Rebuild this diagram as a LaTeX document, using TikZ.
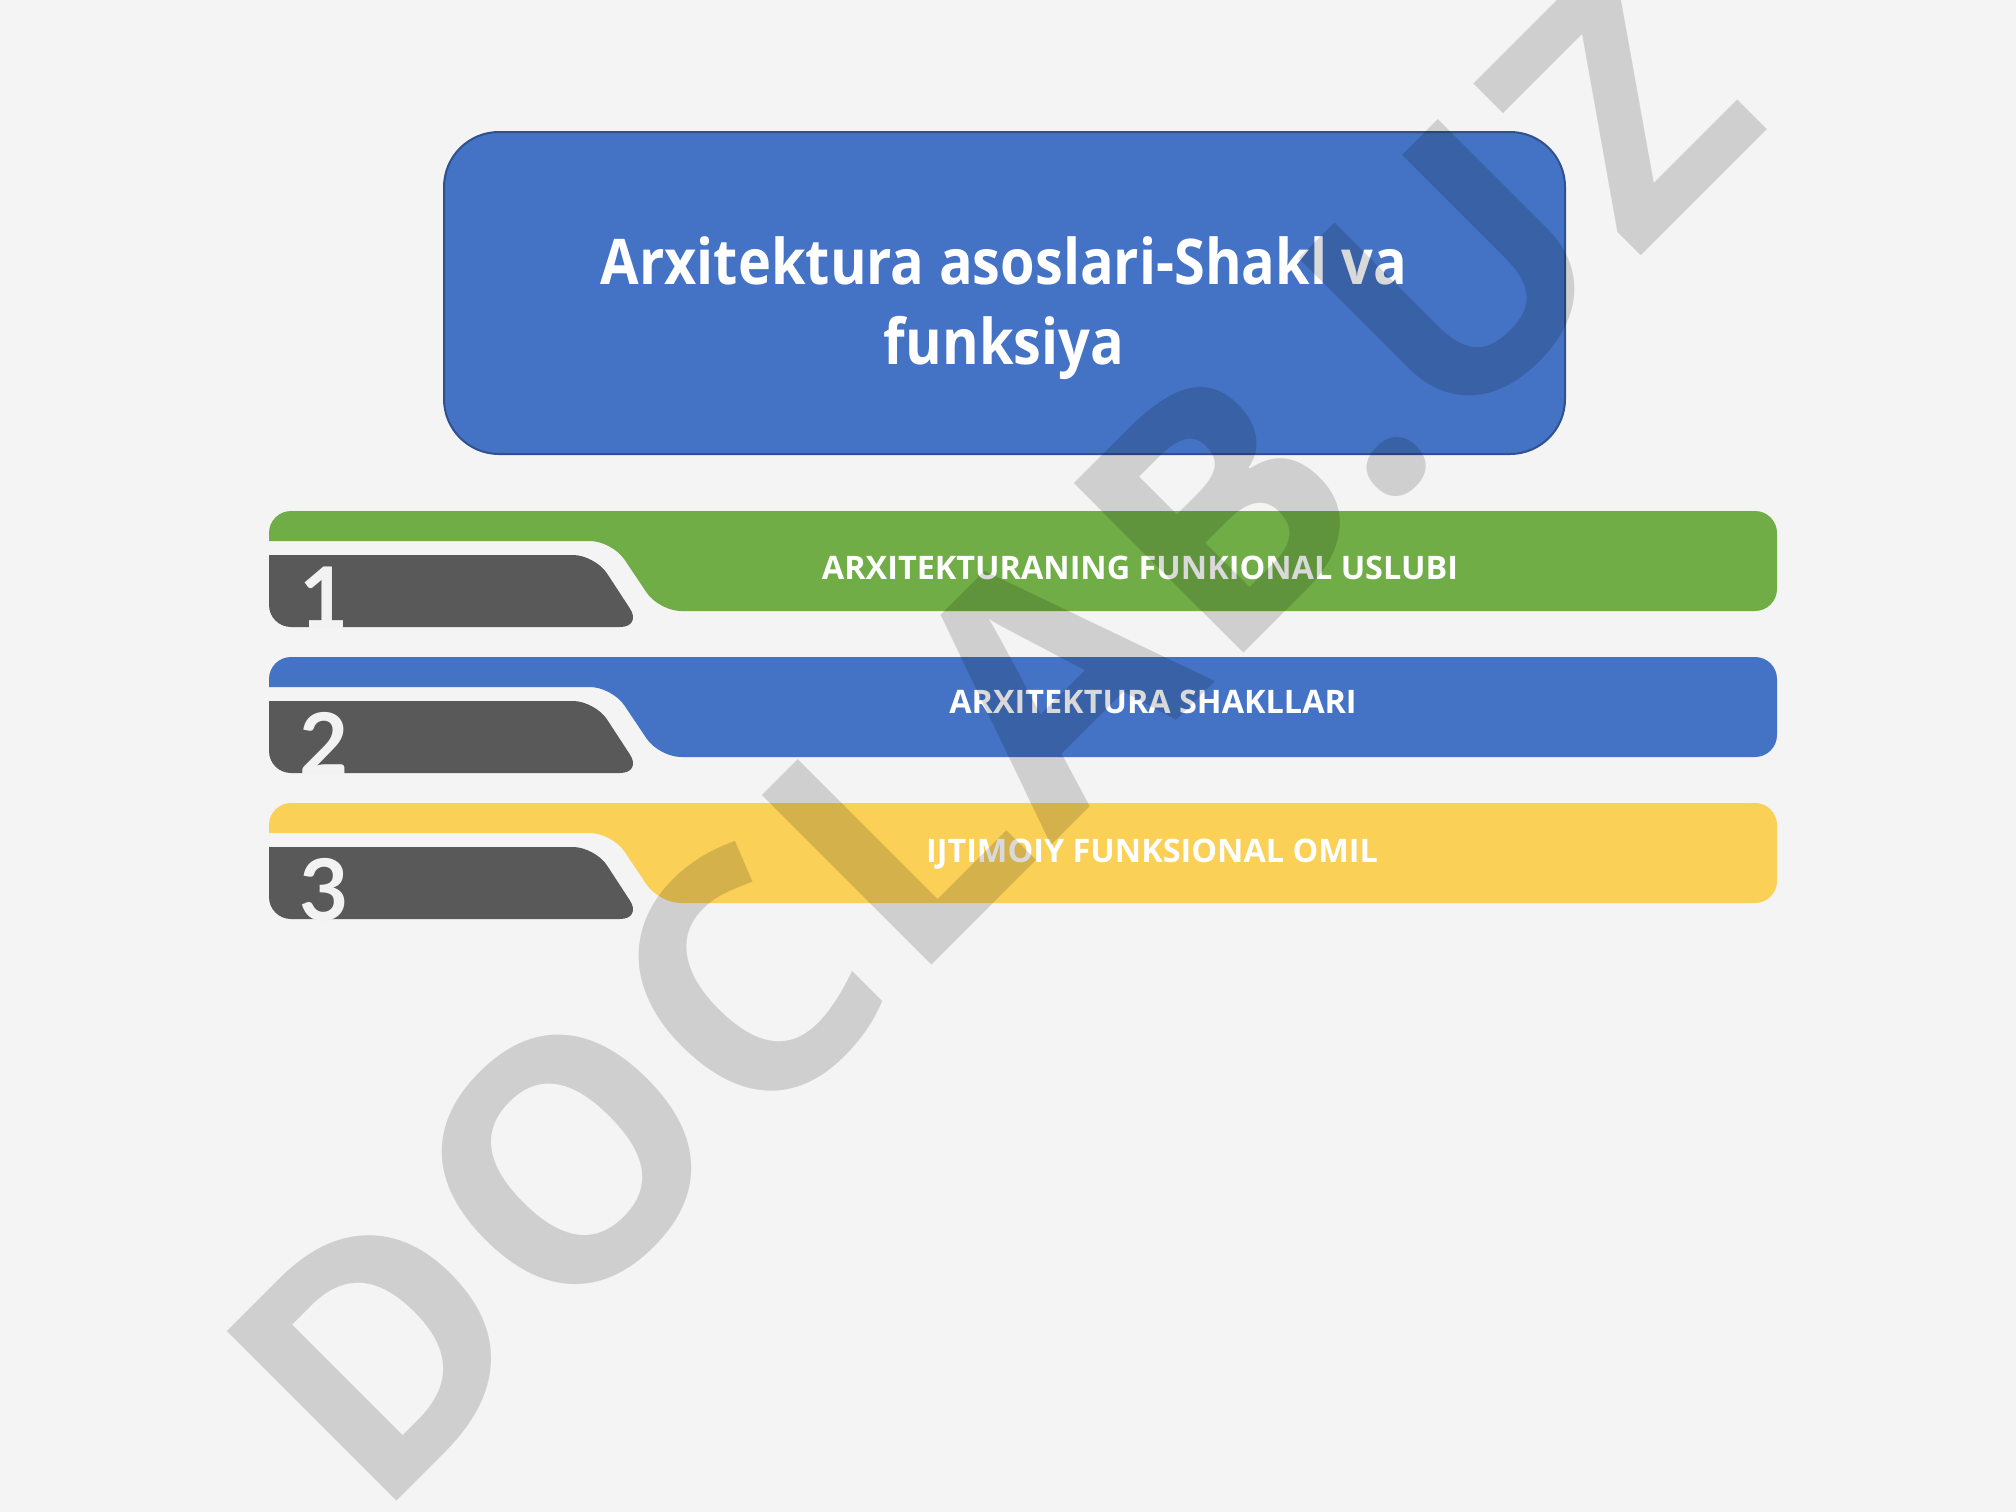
\documentclass[tikz,border=0pt]{standalone}
\usepackage{fontspec}
\setmainfont{Open Sans}
\newfontfamily\digitfont{Lato}
\newfontfamily\wmfont[LetterSpace=2.8]{Open Sans}
\definecolor{bgc}{HTML}{F4F4F4}
\definecolor{barG}{HTML}{70AD47}
\definecolor{barB}{HTML}{4472C4}
\definecolor{barY}{RGB}{250,208,87}
\definecolor{titleedge}{HTML}{2F528F}
\definecolor{tabgrey}{HTML}{595959}
\definecolor{digitwhite}{HTML}{F2F2F2}
\tikzset{
  titlebox/.style={rectangle, rounded corners=55pt, fill=barB, draw=titleedge, line width=2pt,
    minimum width=1121pt, minimum height=322pt, inner sep=0pt},
  titletext/.style={text=white, align=center, inner sep=0pt, xscale=0.887, transform shape,
    font=\bfseries\fontsize{63}{80}\selectfont},
  bartext/.style={text=white, inner sep=0pt, font=\bfseries\fontsize{32.4}{40}\selectfont},
  digit/.style={text=digitwhite, inner sep=0pt, anchor=base,
    font=\digitfont\bfseries\fontsize{85}{85}\selectfont},
  watermark/.style={text=black, text opacity=0.15, inner sep=0pt,
    font=\wmfont\bfseries\fontsize{336}{336}\selectfont}
}
\begin{document}
\begin{tikzpicture}[x=1pt,y=-1pt]
\fill[bgc] (0,0) rectangle (2016,1512);
\useasboundingbox (0,0) rectangle (2016,1512);
% title
\node[titlebox] (title) at (1004.5,293) {};
\node[titletext] (titletxt) at (1004,308) {Arxitektura asoslari-Shakl va\\funksiya};
% bars
\foreach \T/\c/\n in {511/barG/1,657/barB/2,803/barY/3} {
  \fill[\c, rounded corners=22pt] (269,\T+30) -- (269,\T) -- (1777,\T) -- (1777,\T+100)
     -- (659,\T+100) -- (612,\T+30) -- (269,\T+30);
  \fill[tabgrey, rounded corners=22pt] (269,\T+44) -- (595,\T+44) -- (642,\T+116)
     -- (269,\T+116) -- (269,\T+44);
  \node[digit] (num\n) at (324,\T+117) {\n};
}
\node[bartext, anchor=base] (lab1) at (1140,579) {ARXITEKTURANING FUNKIONAL USLUBI};
\node[bartext, anchor=base] (lab2) at (1153,713) {ARXITEKTURA SHAKLLARI};
\node[bartext, anchor=base] (lab3) at (1152,862) {IJTIMOIY FUNKSIONAL OMIL};
% watermark
\node[watermark, rotate=45, anchor=base] (wm) at (1074,823) {DOCLAB.UZ};
\end{tikzpicture}
\end{document}
